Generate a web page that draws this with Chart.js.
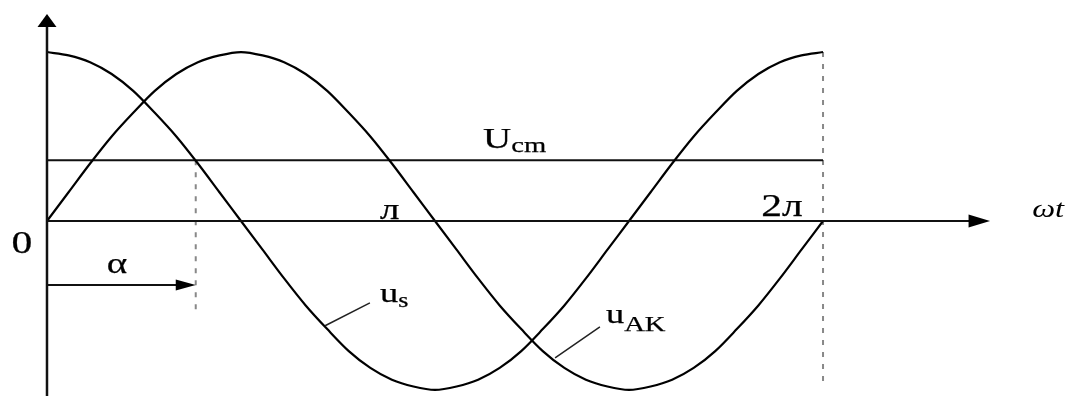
<!DOCTYPE html>
<html>
<head>
<meta charset="utf-8">
<script src="https://cdn.jsdelivr.net/npm/chart.js@4.4.1/dist/chart.umd.min.js"></script>
<style>
  html, body { margin: 0; padding: 0; background: #fff; }
  #wrap { width: 1083px; height: 396px; position: relative; }
</style>
</head>
<body>
<div id="wrap"><canvas id="chart"></canvas></div>
<script>
// angle ωt in degrees, values as fraction of amplitude
const angles = [0, 10, 20, 30, 40, 50, 60, 70, 80, 90, 100, 110, 120, 130, 140, 150, 160, 170, 180,
    190, 200, 210, 220, 230, 240, 250, 260, 270, 280, 290, 300, 310, 320, 330, 340, 350, 360];
const usValues = [1.00, 0.98, 0.94, 0.87, 0.77, 0.64, 0.50, 0.34, 0.17, 0.00, -0.17, -0.34, -0.50, -0.64, -0.77, -0.87, -0.94, -0.98, -1.00,
    -0.98, -0.94, -0.87, -0.77, -0.64, -0.50, -0.34, -0.17, 0.00, 0.17, 0.34, 0.50, 0.64, 0.77, 0.87, 0.94, 0.98, 1.00];
const uakValues = [0.00, 0.17, 0.34, 0.50, 0.64, 0.77, 0.87, 0.94, 0.98, 1.00, 0.98, 0.94, 0.87, 0.77, 0.64, 0.50, 0.34, 0.17, 0.00,
    -0.17, -0.34, -0.50, -0.64, -0.77, -0.87, -0.94, -0.98, -1.00, -0.98, -0.94, -0.87, -0.77, -0.64, -0.50, -0.34, -0.17, 0.00];
const ucmLevel = 0.36;
const alphaDeg = 69;
const tickLabels = ['0', 'л', '2л'];

const toPts = (vals) => angles.map((a, i) => ({ x: a, y: vals[i] }));

// axes, arrows and texts
const decor = {
    id: 'decor',
    afterDatasetsDraw(chart) {
        const ctx = chart.ctx;
        const xs = chart.scales.x, ys = chart.scales.y;
        const px = (v) => xs.getPixelForValue(v);
        const py = (v) => ys.getPixelForValue(v);
        ctx.save();
        ctx.strokeStyle = '#111';
        ctx.fillStyle = '#000';

        // y axis
        ctx.lineWidth = 2.5;
        ctx.beginPath();
        ctx.moveTo(px(0), py(-1.04));
        ctx.lineTo(px(0), py(1.15));
        ctx.stroke();
        ctx.beginPath();
        ctx.moveTo(px(0), py(1.225));
        ctx.lineTo(px(0) - 9.5, py(1.148));
        ctx.lineTo(px(0) + 9.5, py(1.148));
        ctx.closePath();
        ctx.fill();

        // x axis
        ctx.lineWidth = 2;
        ctx.beginPath();
        ctx.moveTo(px(0), py(0));
        ctx.lineTo(px(428), py(0));
        ctx.stroke();
        ctx.beginPath();
        ctx.moveTo(px(437.5), py(0));
        ctx.lineTo(px(427.5), py(0) - 6.5);
        ctx.lineTo(px(427.5), py(0) + 6.5);
        ctx.closePath();
        ctx.fill();

        // alpha arrow
        const ay = py(-0.379);
        ctx.beginPath();
        ctx.moveTo(px(0), ay);
        ctx.lineTo(px(alphaDeg) - 18, ay);
        ctx.stroke();
        ctx.beginPath();
        ctx.moveTo(px(alphaDeg), ay);
        ctx.lineTo(px(alphaDeg) - 20, ay - 5.5);
        ctx.lineTo(px(alphaDeg) - 20, ay + 5.5);
        ctx.closePath();
        ctx.fill();

        // leader lines
        ctx.lineWidth = 1.5;
        ctx.strokeStyle = '#222';
        ctx.beginPath();
        ctx.moveTo(px(149.8), py(-0.485));
        ctx.lineTo(px(129), py(-0.62));
        ctx.moveTo(px(256.5), py(-0.627));
        ctx.lineTo(px(235.7), py(-0.81));
        ctx.stroke();

        // texts: the scan has wide serif letters
        const serif = '"Liberation Serif", "DejaVu Serif", serif';
        const stretch = 1.3;
        const put = (txt, x, y, size, align, style, heavy) => {
            ctx.save();
            ctx.font = (style || '') + ' ' + size + 'px ' + serif;
            ctx.textBaseline = 'alphabetic';
            ctx.textAlign = 'left';
            const w = ctx.measureText(txt).width * stretch;
            let x0 = x;
            if (align === 'center') x0 = x - w / 2;
            ctx.translate(x0, y);
            ctx.scale(stretch, 1);
            ctx.fillText(txt, 0, 0);
            if (heavy) {
                ctx.lineWidth = 0.25;
                ctx.strokeStyle = '#000';
                ctx.strokeText(txt, 0, 0);
            }
            ctx.restore();
            return w;
        };
        const sub = (main, s, x, y, size, subSize, drop) => {
            const w = put(main, x, y, size, 'left', '', true);
            put(s, x + w, y + drop, subSize, 'left', '', true);
        };
        put(tickLabels[0], px(-11.6), py(-0.189), 32, 'center', '', true);
        put(tickLabels[1], px(159), py(0.012), 30, 'center', '', true);
        put(tickLabels[2], px(341), py(0.030), 32, 'center', '', true);
        put('α', px(32.5), py(-0.308), 30, 'center', '', true);
        put('ωt', px(457), py(0.024), 25, 'left', 'italic', false);
        sub('U', 'cm', px(202.3), py(0.432), 30, 22, 4);
        sub('u', 's', px(154.5), py(-0.479), 28, 20, 5);
        sub('u', 'AK', px(259.3), py(-0.604), 28, 22, 8);
        ctx.restore();
    }
};

new Chart(document.getElementById('chart'), {
    type: 'line',
    data: {
        datasets: [
            { label: 'u_s', data: toPts(usValues), borderColor: '#000', borderWidth: 2.2, pointRadius: 0, cubicInterpolationMode: 'monotone', fill: false },
            { label: 'u_AK', data: toPts(uakValues), borderColor: '#000', borderWidth: 2.2, pointRadius: 0, cubicInterpolationMode: 'monotone', fill: false },
            { label: 'U_cm', data: [{ x: 0, y: ucmLevel }, { x: 360, y: ucmLevel }], borderColor: '#111', borderWidth: 2, pointRadius: 0 },
            { label: 'alpha', data: [{ x: alphaDeg, y: ucmLevel }, { x: alphaDeg, y: -0.545 }], borderColor: '#888', borderWidth: 2, borderDash: [5, 7], pointRadius: 0 },
            { label: '2pi', data: [{ x: 360, y: 1.0 }, { x: 360, y: -0.98 }], borderColor: '#888', borderWidth: 2, borderDash: [5, 7], pointRadius: 0 }
        ]
    },
    options: {
        responsive: true,
        maintainAspectRatio: false,
        animation: false,
        layout: { padding: 0 },
        scales: {
            x: { type: 'linear', display: false, min: -21.8, max: 480.6 },
            y: { type: 'linear', display: false, min: -1.036, max: 1.308 }
        },
        plugins: {
            legend: { display: false },
            tooltip: { enabled: false }
        }
    },
    plugins: [decor]
});
</script>
</body>
</html>
